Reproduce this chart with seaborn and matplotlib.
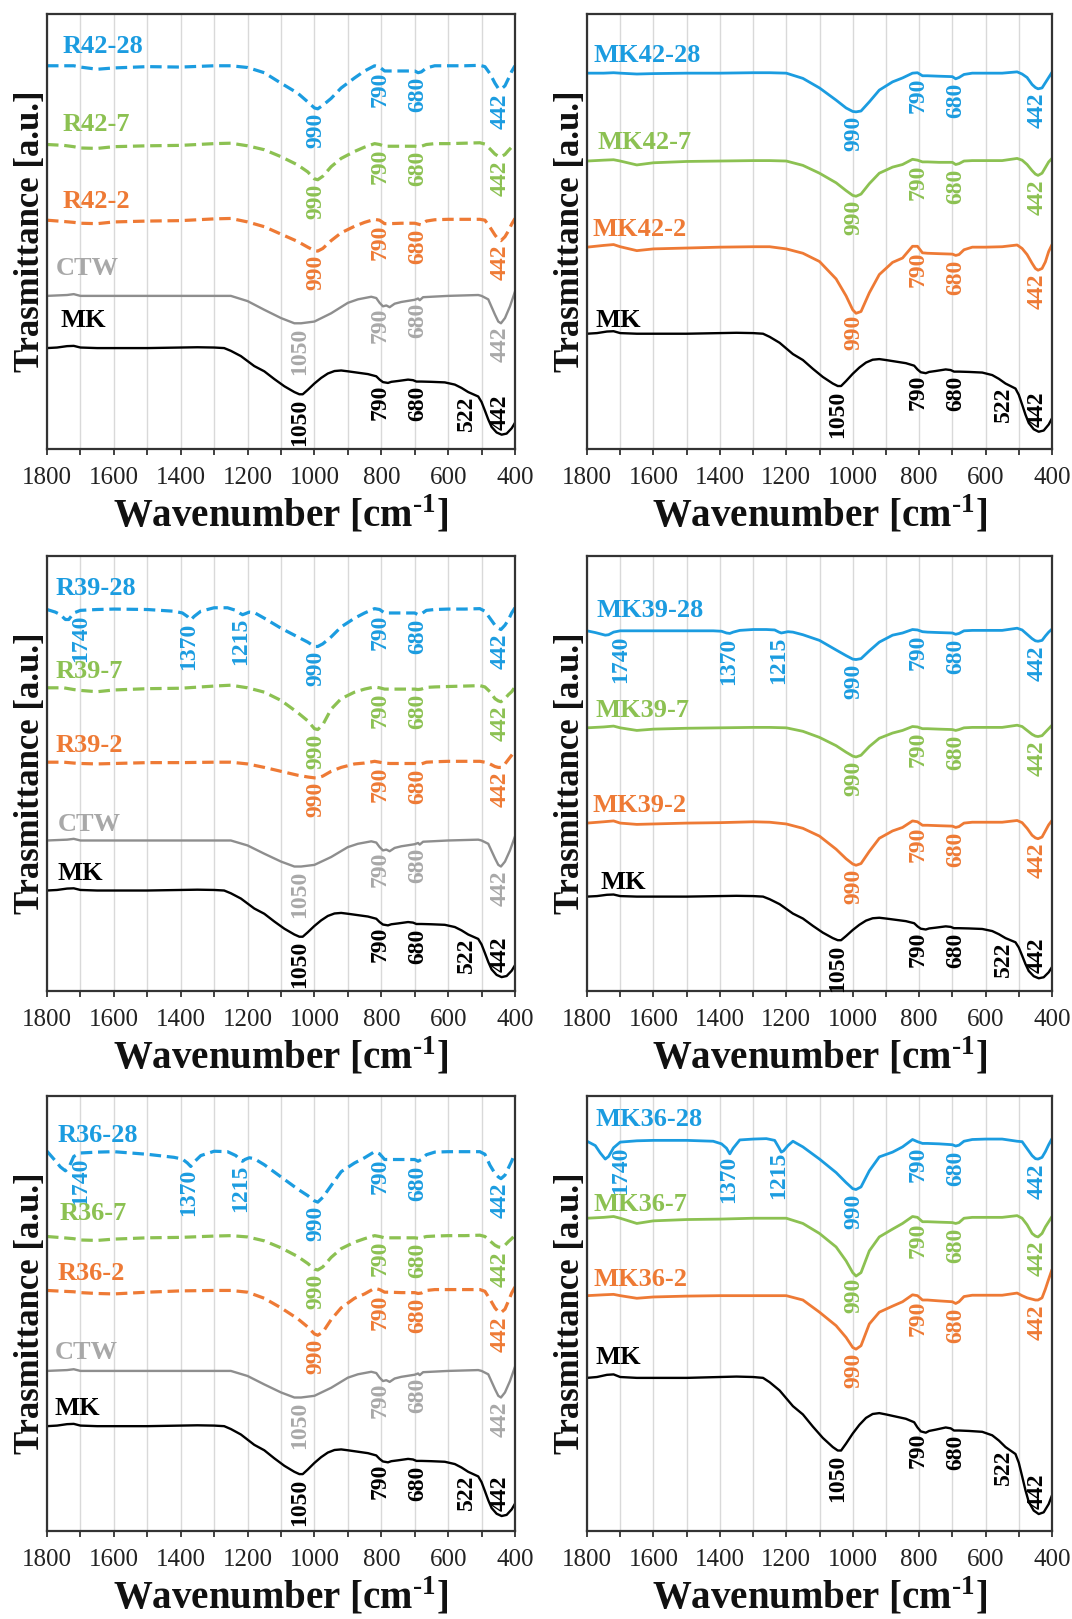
import numpy as np
import matplotlib
matplotlib.use("Agg")
import matplotlib.pyplot as plt
import seaborn as sns

# ---------------------------------------------------------------- data
# wavenumber grids [cm-1]
GRID_A = [1800, 1750, 1720, 1700, 1650, 1600, 1500, 1400, 1300, 1250, 1200, 1150, 1100,
          1050, 1020, 1000, 990, 975, 950, 920, 880, 850, 820, 805, 790, 775, 740, 700,
          690, 680, 665, 640, 600, 550, 505, 490, 475, 460, 450, 442, 430, 420, 410, 400]
GRID_B = [1800, 1775, 1760, 1745, 1735, 1720, 1700, 1650, 1600, 1500, 1420, 1395, 1380,
          1370, 1360, 1340, 1300, 1260, 1235, 1222, 1215, 1208, 1195, 1180, 1150, 1100,
          1050, 1020, 1000, 990, 975, 950, 920, 880, 850, 820, 805, 790, 775, 740, 700,
          690, 680, 665, 640, 600, 550, 505, 490, 475, 460, 450, 442, 430, 420, 410, 400]

# reference materials (relative transmittance, a.u.)
MK_WN = [1800, 1770, 1740, 1720, 1700, 1650, 1500, 1400, 1350, 1300, 1270, 1250, 1220,
         1180, 1150, 1120, 1090, 1060, 1045, 1035, 1020, 1000, 980, 960, 940, 920, 900,
         870, 840, 815, 805, 795, 780, 770, 750, 720, 705, 695, 680, 650, 610, 580, 560,
         540, 525, 510, 500, 490, 480, 470, 455, 440, 425, 410, 400]
MK_REL = [0, 0.2, 0.7, 0.8, 0.2, 0, 0, 0.2, 0.3, 0.2, 0, -1.0, -2.9, -6.5, -8.4, -11.2,
          -13.8, -15.9, -16.7, -16.7, -15.1, -12.8, -10.8, -9.2, -8.3, -8.1, -8.4, -8.9,
          -9.4, -10.2, -11.4, -12.3, -12.6, -12.2, -11.9, -11.4, -11.6, -12.1, -12.1,
          -12.2, -12.4, -13.2, -14.4, -15.9, -16.7, -17.5, -19.5, -22.6, -25.8, -28.5,
          -30.5, -31.3, -30.9, -29.0, -27.0]
CTW_WN = [1800, 1740, 1720, 1700, 1300, 1250, 1200, 1150, 1100, 1060, 1040, 1000, 950, 900,
          870, 830, 815, 805, 795, 785, 775, 760, 740, 700, 690, 685, 675, 600, 510, 500,
          480, 460, 450, 442, 430, 415, 400]
CTW_REL = [0, 0.2, 0.4, 0, 0, 0, -1.2, -3.2, -5.1, -6.3, -6.3, -5.9, -4.0, -1.6, -0.8, -0.2,
           -0.5, -1.6, -2.4, -2.2, -2.6, -1.8, -1.4, -0.9, -0.6, -1.0, -0.3, 0, 0.2, 0, -0.8,
           -4.3, -5.9, -6.3, -5.1, -2.4, 1.0]

# R (recycled) series, on GRID_A / GRID_B
R42_28 = [0, 0, 0, -0.3, -0.8, -0.5, -0.2, -0.3, 0, 0, -0.4, -1.6, -4.0, -6.3, -8.3, -9.7, -9.9,
          -9.1, -7.5, -5.1, -2.8, -1.2, 0, -0.3, -1.2, -1.2, -1.2, -1.2, -1.6, -1.4, -0.5, 0, 0,
          0, 0.1, -0.2, -1.8, -4.0, -5.2, -5.4, -4.6, -3.0, -1.3, 0]
R42_7 = [0, -0.2, -0.5, -0.8, -0.9, -0.5, -0.3, -0.2, 0.2, 0.3, -0.3, -1.2, -2.8, -4.7, -6.3,
         -7.9, -8.1, -7.3, -5.1, -3.2, -1.6, -0.6, 0.2, 0, -0.4, -0.4, -0.4, -0.4, -0.5, -0.4,
         0, 0.2, 0.2, 0.3, 0.4, 0.1, -1.0, -2.2, -2.7, -2.8, -2.3, -1.4, -0.6, 0.1]
R42_2 = [0, -0.3, -0.5, -0.7, -0.8, -0.4, -0.2, -0.1, 0.3, 0.4, -0.4, -1.5, -3.2, -4.9, -6.2,
         -7.0, -7.1, -6.5, -4.7, -2.9, -1.4, -0.5, 0.2, 0, -0.8, -0.8, -0.7, -0.7, -0.9, -1.1,
         -0.2, 0.1, 0.2, 0.2, 0.2, 0, -1.6, -3.4, -4.4, -4.7, -3.8, -2.5, -0.9, 0.4]
R39_28 = [0, -0.6, -1.2, -2.3, -2.3, -0.8, -0.2, 0, 0.1, 0, -0.4, -0.8, -1.6, -2.4, -1.6, -0.4,
          0.4, 0.4, -0.2, -0.9, -1.2, -1.0, -0.6, -0.7, -2.0, -4.3, -6.3, -7.5, -8.5, -8.5,
          -7.9, -6.3, -4.0, -2.0, -0.8, 0.2, 0, -0.8, -0.8, -0.8, -0.8, -1.2, -1.0, -0.2, 0,
          0.1, 0.1, 0.2, -0.4, -2.0, -3.6, -4.3, -4.6, -3.6, -2.4, -0.8, 0.4]
R39_7 = [0, 0, -0.4, -0.6, -0.9, -0.5, -0.2, -0.1, 0.4, 0.6, 0, -1.0, -2.9, -5.7, -7.6, -9.4,
         -9.6, -8.5, -4.9, -2.5, -1.0, -0.3, 0.2, 0, -0.3, -0.3, -0.3, -0.3, -0.4, -0.3, 0.1,
         0.2, 0.3, 0.4, 0.5, 0.2, -0.9, -2.5, -3.0, -3.2, -2.5, -1.6, -0.9, 0.2]
R39_2 = [0, 0, -0.2, -0.3, -0.4, -0.3, -0.1, -0.1, 0, 0, -0.4, -1.2, -2.1, -3.0, -3.4, -3.6,
         -3.6, -3.2, -2.1, -1.2, -0.4, -0.2, 0.2, 0, -0.2, -0.3, -0.3, -0.3, -0.4, -0.4, 0,
         0.1, 0.2, 0.2, 0.2, 0, -0.4, -1.0, -1.2, -1.2, -0.4, 0.6, 1.6, 2.6]
R36_28 = [0.2, -2.0, -3.4, -4.3, -3.6, -1.0, -0.2, 0, 0.1, -0.5, -1.2, -1.6, -2.5, -3.3, -2.3,
          -0.8, 0.2, 0.1, -0.8, -1.8, -2.1, -1.7, -1.3, -1.5, -2.9, -5.7, -8.5, -10.0, -11.2,
          -11.5, -10.4, -7.7, -4.5, -2.5, -1.3, 0.1, -0.4, -1.7, -1.7, -1.7, -1.7, -2.1, -1.7,
          -0.6, 0, 0.1, 0.1, 0.1, -0.5, -3.0, -4.9, -5.7, -6.1, -5.3, -3.7, -2.1, -0.2]
R36_7 = [0, -0.3, -0.5, -0.8, -0.9, -0.6, -0.3, -0.2, 0.1, 0.2, -0.1, -1.0, -2.6, -4.6, -6.2,
         -7.5, -7.7, -7.0, -4.8, -2.8, -1.3, -0.5, 0.2, 0, -0.3, -0.3, -0.3, -0.3, -0.4, -0.3,
         0, 0.1, 0.2, 0.2, 0.3, 0, -1.0, -2.0, -2.4, -2.5, -2.0, -1.2, -0.5, 0.3]
R36_2 = [0, -0.2, -0.3, -0.5, -0.7, -0.8, -0.4, -0.1, 0, 0, -0.4, -1.8, -4.0, -6.5, -8.4,
         -10.0, -10.3, -9.6, -6.7, -4.0, -1.8, -0.8, 0.5, 0.2, -0.4, -0.4, -0.5, -0.5, -0.7,
         -0.6, 0, 0.2, 0.2, 0.2, 0.2, -0.2, -2.0, -4.0, -4.9, -5.1, -4.3, -2.5, -0.6, 0.8]

# MK (metakaolin) series
MK42_28 = [0, 0, 0.1, 0, -0.2, -0.1, 0, 0, 0.1, 0.1, 0, -1.2, -3.4, -6.2, -8.0, -8.8, -8.9,
           -8.7, -6.6, -3.9, -2.0, -1.1, 0, 0.1, -0.6, -0.6, -0.7, -0.8, -1.3, -1.0, -0.3, 0,
           0, 0, 0.3, -0.2, -1.0, -2.6, -3.3, -3.6, -3.4, -2.2, -1.0, 0.2]
MK42_7 = [0, 0.2, 0.3, 0, -0.9, -0.4, -0.1, 0, 0.1, 0.1, 0, -1.0, -2.8, -5.0, -6.8, -7.9, -8.1,
          -7.6, -5.2, -2.8, -1.4, -0.8, 0.4, 0.2, -0.2, -0.2, -0.3, -0.3, -0.8, -0.6, 0, 0.1,
          0.1, 0.1, 0.6, 0.2, -0.8, -2.2, -3.0, -3.3, -2.8, -1.5, -0.2, 0.6]
MK42_2 = [0, 0.4, 0.6, 0.1, -0.8, -0.4, -0.2, 0, 0.1, 0.1, -0.4, -1.4, -3.3, -7.3, -11.2,
          -14.4, -15.2, -14.8, -10.5, -6.3, -3.5, -2.5, 0.2, 0.2, -1.3, -1.4, -1.5, -1.6,
          -1.9, -1.7, -0.6, 0, 0, 0.1, 0.5, -0.3, -1.7, -3.7, -4.9, -5.3, -4.9, -3.4, -1.0, 0.6]
MK39_28 = [0, -0.4, -0.7, -1.0, -0.9, -0.3, 0, 0, 0, 0, 0, -0.1, -0.5, -0.6, -0.3, 0.1, 0.3,
           0.3, 0.2, -0.3, -0.5, -0.4, -0.2, -0.3, -0.9, -2.2, -4.4, -5.7, -6.5, -6.6, -6.4,
           -4.6, -2.6, -1.0, -0.5, 0.3, 0.2, -0.2, -0.3, -0.4, -0.5, -0.8, -0.6, 0, 0.1, 0.1,
           0.1, 0.6, 0.2, -0.8, -1.8, -2.3, -2.4, -2.2, -1.2, -0.3, 0.4]
MK39_7 = [0, 0.2, 0.4, 0, -0.6, -0.3, -0.1, 0, 0.1, 0.1, 0, -0.8, -2.2, -4.1, -5.6, -6.5, -6.7,
          -6.3, -4.3, -2.4, -1.2, -0.6, 0.3, 0.2, -0.2, -0.2, -0.3, -0.4, -0.6, -0.4, 0, 0.1,
          0.1, 0.1, 0.6, 0.3, -0.6, -1.5, -1.9, -2.0, -1.8, -1.0, -0.2, 0.6]
MK39_2 = [0, 0.3, 0.5, 0, -0.3, -0.2, 0, 0.1, 0.3, 0.2, -0.2, -1.2, -3.0, -6.0, -8.2, -9.4,
          -9.7, -9.3, -6.5, -3.5, -1.8, -1.0, 0.5, 0.3, -0.5, -0.5, -0.6, -0.7, -1.0, -0.8, 0,
          0.2, 0.2, 0.2, 0.6, 0.1, -1.2, -2.8, -3.4, -3.6, -3.2, -1.8, -0.4, 0.6]
MK36_28 = [0, -1.0, -2.7, -4.1, -3.5, -1.5, -0.2, 0.1, 0.2, 0.2, 0, -0.6, -1.6, -2.9, -1.6,
           0.3, 0.5, 0.6, 0.2, -1.5, -2.5, -2.2, -1.0, 0, -1.3, -4.1, -7.2, -9.5, -10.9, -11.1,
           -10.5, -6.8, -3.6, -2.5, -1.3, 0.4, -0.1, -0.5, -0.5, -0.6, -0.8, -1.1, -0.9, 0,
           0.4, 0.5, 0.5, 0, -0.1, -1.7, -3.3, -4.0, -4.1, -3.7, -2.4, -0.8, 0.6]
MK36_7 = [0, 0.2, 0.4, 0, -1.2, -0.6, -0.3, -0.2, 0, 0, 0, -1.2, -3.5, -6.6, -9.8, -12.5,
          -13.3, -12.5, -7.5, -4.3, -2.5, -1.2, 0.4, 0.2, -0.8, -0.8, -0.9, -1.0, -1.2, -1.0,
          0, 0.2, 0.2, 0.2, 0.6, 0, -1.5, -3.5, -4.1, -4.3, -3.5, -2.0, -0.8, 0.4]
MK36_2 = [0, 0.2, 0.3, 0, -0.6, -0.3, -0.1, 0, 0, 0, 0, -1.0, -3.8, -6.9, -9.6, -11.9, -12.3,
          -11.5, -6.5, -3.8, -2.4, -1.4, 0.2, 0, -1.0, -1.0, -1.2, -1.4, -1.8, -1.4, -0.2, 0.1,
          0.1, 0.1, 0.6, 0, -0.5, -0.8, -1.0, -1.0, -0.5, 1.5, 3.8, 6.0]

# peak labels
PEAKS_GP = ["990", "790", "680", "442"]
PEAKS_ORG = ["1740", "1370", "1215", "990", "790", "680", "442"]
PEAKS_CTW = ["1050", "790", "680", "442"]
PEAKS_MK = ["1050", "790", "680", "522", "442"]
XTICKS = [1800, 1600, 1400, 1200, 1000, 800, 600, 400]

# ---------------------------------------------------------------- style / layout
BLUE, GREEN, ORANGE = "#1b9ce0", "#8cc152", "#ee7a35"
GRAY_LINE, GRAY_TEXT, BLACK = "#8e8e8e", "#a8a8a8", "#000000"
PEAK_X = {"1740": 1700, "1370": 1375, "1215": 1222, "1050": 1045, "990": 997,
          "790": 803, "680": 690, "522": 545, "442": 445}

sns.set_theme(style="white")
plt.rcParams["font.family"] = ["Liberation Serif", "DejaVu Serif"]
plt.rcParams["mathtext.fontset"] = "custom"
plt.rcParams["mathtext.rm"] = "Liberation Serif:bold"
plt.rcParams["mathtext.bf"] = "Liberation Serif:bold"

W, H = 1072, 1619
fig = plt.figure(figsize=(W / 100, H / 100), dpi=100)

COLS = [47, 587]
COL_W = [468, 465]
ROWS = [14, 556, 1096]
ROW_H = 435

DASH = (0, (3.6, 1.8))

# (name, wn, rel, base, scale, color, text colour, linestyle, lw, peaks, label x, label y)
panels = [
    [("R42-28", GRID_A, R42_28, 88.1, 1, BLUE, BLUE, DASH, 2.3, PEAKS_GP, 1754, 92.5),
     ("R42-7", GRID_A, R42_7, 70.0, 1, GREEN, GREEN, DASH, 2.3, PEAKS_GP, 1754, 74.7),
     ("R42-2", GRID_A, R42_2, 52.6, 1, ORANGE, ORANGE, DASH, 2.3, PEAKS_GP, 1754, 56.9),
     ("CTW", CTW_WN, CTW_REL, 35.2, 1.0, GRAY_LINE, GRAY_TEXT, "-", 1.7, PEAKS_CTW, 1774, 41.5),
     ("MK", MK_WN, MK_REL, 23.2, 0.636, BLACK, BLACK, "-", 1.7, PEAKS_MK, 1759, 29.6)],
    [("MK42-28", GRID_A, MK42_28, 86.4, 1, BLUE, BLUE, "-", 2.0, PEAKS_GP, 1779, 90.5),
     ("MK42-7", GRID_A, MK42_7, 66.2, 1, GREEN, GREEN, "-", 2.0, PEAKS_GP, 1769, 70.4),
     ("MK42-2", GRID_A, MK42_2, 46.4, 1, ORANGE, ORANGE, "-", 2.0, PEAKS_GP, 1784, 50.4),
     ("MK", MK_WN, MK_REL, 26.5, 0.72, BLACK, BLACK, "-", 1.7, PEAKS_MK, 1774, 29.6)],
    [("R39-28", GRID_B, R39_28, 87.7, 1, BLUE, BLUE, DASH, 2.3, PEAKS_ORG, 1774, 92.5),
     ("R39-7", GRID_A, R39_7, 69.7, 1, GREEN, GREEN, DASH, 2.3, PEAKS_GP, 1774, 73.5),
     ("R39-2", GRID_A, R39_2, 52.6, 1, ORANGE, ORANGE, DASH, 2.3, PEAKS_GP, 1774, 56.4),
     ("CTW", CTW_WN, CTW_REL, 34.6, 0.95, GRAY_LINE, GRAY_TEXT, "-", 1.7, PEAKS_CTW, 1769, 38.3),
     ("MK", MK_WN, MK_REL, 23.1, 0.636, BLACK, BLACK, "-", 1.7, PEAKS_MK, 1769, 26.9)],
    [("MK39-28", GRID_B, MK39_28, 82.8, 1, BLUE, BLUE, "-", 2.0, PEAKS_ORG, 1771, 87.4),
     ("MK39-7", GRID_A, MK39_7, 60.5, 1, GREEN, GREEN, "-", 2.0, PEAKS_GP, 1774, 64.4),
     ("MK39-2", GRID_A, MK39_2, 38.6, 1, ORANGE, ORANGE, "-", 2.0, PEAKS_GP, 1784, 42.7),
     ("MK", MK_WN, MK_REL, 21.7, 0.60, BLACK, BLACK, "-", 1.7, PEAKS_MK, 1759, 24.9)],
    [("R36-28", GRID_B, R36_28, 87.1, 1, BLUE, BLUE, DASH, 2.3, PEAKS_ORG, 1767, 90.9),
     ("R36-7", GRID_A, R36_7, 67.7, 1, GREEN, GREEN, DASH, 2.3, PEAKS_GP, 1762, 73.1),
     ("R36-2", GRID_A, R36_2, 55.3, 1, ORANGE, ORANGE, DASH, 2.3, PEAKS_GP, 1767, 59.3),
     ("CTW", CTW_WN, CTW_REL, 36.8, 0.97, GRAY_LINE, GRAY_TEXT, "-", 1.7, PEAKS_CTW, 1777, 41.1),
     ("MK", MK_WN, MK_REL, 24.1, 0.66, BLACK, BLACK, "-", 1.7, PEAKS_MK, 1777, 28.2)],
    [("MK36-28", GRID_B, MK36_28, 89.6, 1, BLUE, BLUE, "-", 2.0, PEAKS_ORG, 1774, 94.5),
     ("MK36-7", GRID_A, MK36_7, 71.9, 1, GREEN, GREEN, "-", 2.0, PEAKS_GP, 1779, 75.0),
     ("MK36-2", GRID_A, MK36_2, 54.1, 1, ORANGE, ORANGE, "-", 2.0, PEAKS_GP, 1779, 57.8),
     ("MK", MK_WN, MK_REL, 35.2, 1.0, BLACK, BLACK, "-", 1.7, PEAKS_MK, 1774, 39.8)],
]

GAP = 1.0
for i, curves in enumerate(panels):
    r, c = divmod(i, 2)
    left = COLS[c] / W
    bottom = 1 - (ROWS[r] + ROW_H) / H
    ax = fig.add_axes([left, bottom, COL_W[c] / W, ROW_H / H])
    for (name, wn, rel, base, scale, col, tcol, ls, lw, peaks, lx, ly) in curves:
        assert len(wn) == len(rel), name
        y = base + scale * np.asarray(rel, dtype=float)
        sns.lineplot(x=wn, y=y, ax=ax, color=col, linewidth=lw, linestyle=ls,
                     estimator=None, sort=False, legend=False)
        ax.text(lx, ly, name, ha="left", va="center", fontsize=19, fontweight="bold",
                color=tcol)
        xs = np.asarray(wn, dtype=float)[::-1]
        ys = y[::-1]
        for p in peaks:
            px = PEAK_X[p]
            py = np.interp(px, xs, ys)
            if name == "MK" and p == "442":
                ax.text(px, py + GAP, p, rotation=90, ha="center", va="bottom",
                        fontsize=17, fontweight="bold", color=tcol)
            else:
                ax.text(px, py - GAP, p, rotation=90, ha="center", va="top",
                        fontsize=17, fontweight="bold", color=tcol)
    ax.set_xlim(1800, 400)
    ax.set_ylim(0, 100)
    ax.set_xticks(XTICKS)
    ax.set_xticklabels([str(t) for t in XTICKS])
    ax.set_xticks(np.arange(400, 1801, 100), minor=True)
    ax.set_yticks([])
    ax.grid(axis="x", which="both", color="#d9d9d9", linewidth=1.0)
    ax.set_axisbelow(True)
    ax.tick_params(axis="x", which="both", bottom=True, direction="out", length=4,
                   width=1.3, color="#333333", labelsize=18, pad=9,
                   labelcolor="#222222")
    for s in ax.spines.values():
        s.set_color("#333333")
        s.set_linewidth(1.6)
    ax.set_xlabel(r"Wavenumber [cm$^{\text{-1}}$]", fontsize=28, fontweight="bold",
                  color="#111111")
    ax.xaxis.label.set_va("center")
    ax.xaxis.set_label_coords(0.5, -0.15)
    ax.set_ylabel("Trasmittance [a.u.]", fontsize=25, fontweight="bold", color="#111111")
    ax.yaxis.label.set_va("center")
    ax.yaxis.set_label_coords(-0.036, 0.5)

fig.savefig("out.png", dpi=100)
